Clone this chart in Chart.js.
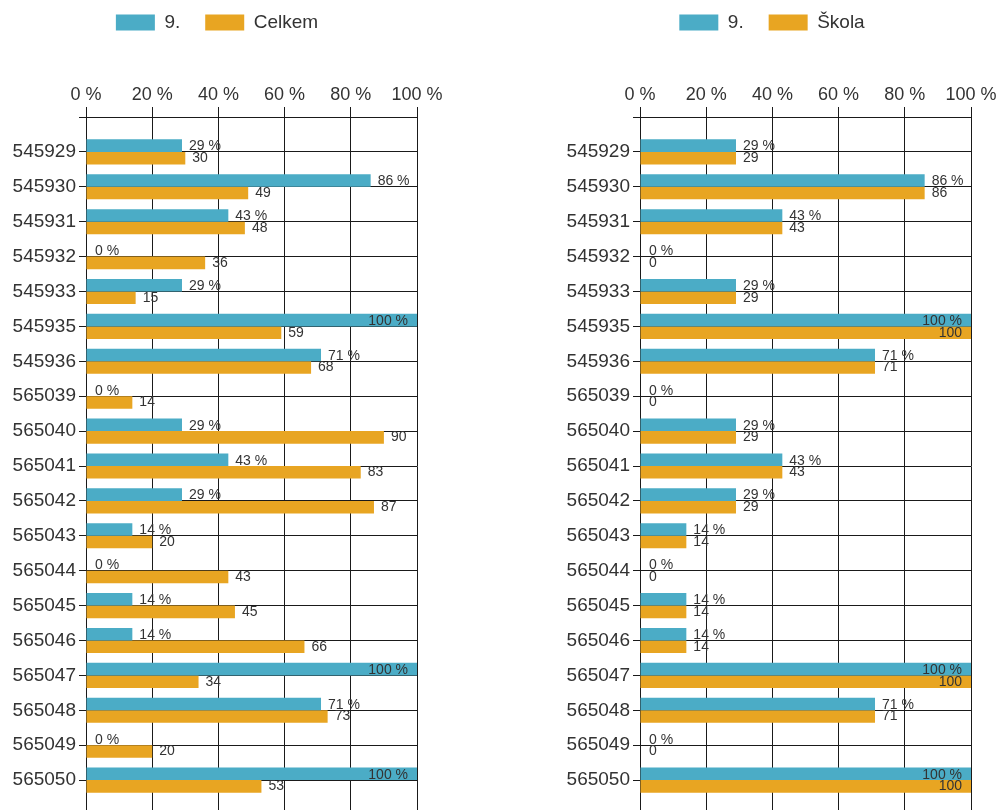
<!DOCTYPE html>
<html>
<head>
<meta charset="utf-8">
<script src="https://cdn.jsdelivr.net/npm/chart.js@4"></script>
<style>
  html, body { margin: 0; padding: 0; background: #fff; overflow: hidden; }
  body { width: 1000px; height: 810px; position: relative; }
  canvas { position: absolute; top: -12px; }
  #left { left: 0; }
  #right { left: 550px; }
</style>
</head>
<body>
<canvas id="left" width="460" height="830"></canvas>
<canvas id="right" width="450" height="830"></canvas>
<script>
// úlohy (kódy otázek)
const tasks = ['545929', '545930', '545931', '545932', '545933', '545935', '545936',
  '565039', '565040', '565041', '565042', '565043', '565044', '565045', '565046',
  '565047', '565048', '565049', '565050'];

// úspěšnost třídy 9. v %
const trida9 = [29, 86, 43, 0, 29, 100, 71, 0, 29, 43, 29, 14, 0, 14, 14, 100, 71, 0, 100];
// celkem (všichni řešitelé)
const celkem = [30, 49, 48, 36, 15, 59, 68, 14, 90, 83, 87, 20, 43, 45, 66, 34, 73, 20, 53];
// škola
const skola = [29, 86, 43, 0, 29, 100, 71, 0, 29, 43, 29, 14, 0, 14, 14, 100, 71, 0, 100];

const percentTicks = [0, 20, 40, 60, 80, 100];

const TEAL = '#4BACC6';
const ORANGE = '#E8A522';
const GRID = '#1a1a1a';
const TEXT = '#333';
const FONT = '"Liberation Sans", Arial, sans-serif';

// prázdná kategorie nahoře i dole, aby mřížka začínala o řádek výš
const axisLabels = [''].concat(tasks, ['']);
const pad = arr => [null].concat(arr, [null]);

// popisky hodnot u konců sloupců
const valueLabels = {
  id: 'valueLabels',
  afterDatasetsDraw(chart) {
    const ctx = chart.ctx;
    const area = chart.chartArea;
    ctx.save();
    ctx.font = '14px ' + FONT;
    ctx.fillStyle = TEXT;
    ctx.textBaseline = 'middle';
    chart.data.datasets.forEach((ds, i) => {
      chart.getDatasetMeta(i).data.forEach((bar, j) => {
        const v = ds.data[j];
        if (v === null || v === undefined) return;
        const text = i === 0 ? v + ' %' : String(v);
        const w = ctx.measureText(text).width;
        let x = bar.x + (v === 0 ? 9 : 7);
        if (x + w > area.right - 2) x = area.right - 9 - w;
        ctx.fillText(text, x, bar.y + (i === 0 ? 1 : 0));
      });
    });
    ctx.restore();
  }
};

// layoutRight posouvá střed legendy, rightPad = místo vpravo od plochy grafu
function makeChart(id, secondName, secondValues, layoutRight, rightPad, axisWidth) {
  return new Chart(document.getElementById(id), {
    type: 'bar',
    data: {
      labels: axisLabels,
      datasets: [
        { label: '9.', data: pad(trida9), backgroundColor: TEAL },
        { label: secondName, data: pad(secondValues), backgroundColor: ORANGE }
      ]
    },
    options: {
      indexAxis: 'y',
      responsive: false,
      animation: false,
      events: [],
      layout: { padding: { left: 0, right: layoutRight, top: 0, bottom: 3 } },
      datasets: { bar: { barPercentage: 1, categoryPercentage: 0.72 } },
      plugins: {
        tooltip: { enabled: false },
        legend: {
          position: 'top',
          labels: {
            boxWidth: 39,
            boxHeight: 16,
            padding: 25,
            color: TEXT,
            font: { family: FONT, size: 19 }
          }
        }
      },
      scales: {
        x: {
          position: 'top',
          min: 0,
          max: 100,
          afterBuildTicks: s => { s.ticks = percentTicks.map(v => ({ value: v })); },
          afterFit: s => {
            s.height = 129 - s.chart.legend.height;
            s.paddingLeft = 0;
            s.paddingRight = rightPad;
          },
          grid: { color: GRID, tickLength: 10, drawTicks: true },
          border: { color: GRID },
          ticks: {
            color: TEXT,
            padding: 1,
            font: { family: FONT, size: 18 },
            callback: v => v + ' %'
          }
        },
        y: {
          offset: false,
          afterFit: s => {
            s.width = axisWidth;
            s.paddingTop = 0;
            s.paddingBottom = 0;
          },
          grid: { offset: false, color: GRID, tickLength: 7 },
          border: { color: GRID },
          ticks: {
            color: TEXT,
            padding: 3,
            autoSkip: false,
            font: { family: FONT, size: 19 }
          }
        }
      }
    },
    plugins: [valueLabels]
  });
}

makeChart('left', 'Celkem', celkem, 26, 43, 86);
makeChart('right', 'Škola', skola, 6, 29, 90);
</script>
</body>
</html>
